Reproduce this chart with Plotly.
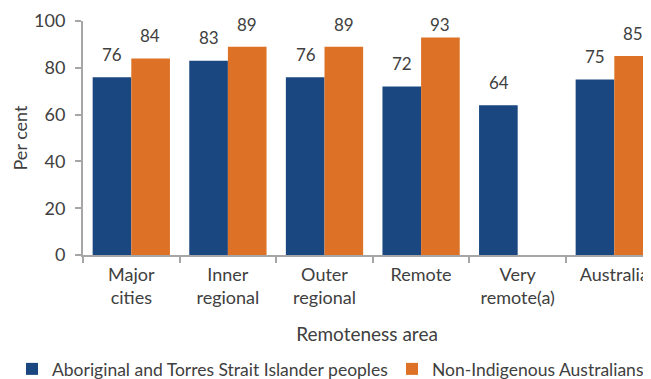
import plotly.graph_objects as go

categories = ["Major<br>cities", "Inner<br>regional", "Outer<br>regional", "Remote", "Very<br>remote(a)", "Australia"]
indigenous = [76, 83, 76, 72, 64, 75]
non_indigenous = [84, 89, 89, 93, None, 85]

blue = "#1A4780"
orange = "#DD7226"
grey = "#404040"
axis_grey = "#A6A6A6"
font_family = "Lato, Open Sans, sans-serif"

# the page body has an 8px margin, so the figure is 8px smaller than the window
W, H = 643, 371

fig = go.Figure()

fig.add_trace(go.Bar(
    x=categories, y=indigenous,
    name="Aboriginal and Torres Strait Islander peoples",
    marker=dict(color=blue, line=dict(width=0)),
    legend="legend",
))
fig.add_trace(go.Bar(
    x=categories, y=non_indigenous,
    name="Non-Indigenous Australians",
    marker=dict(color=orange, line=dict(width=0)),
    legend="legend2",
))

# value labels above the bars, kept inside the top of the plot like excel does
for series, shift in ((indigenous, -19), (non_indigenous, 19)):
    for cat, v in zip(categories, series):
        if v is None:
            continue
        fig.add_annotation(
            x=cat, y=min(v + 9.8, 98.7), text=str(v), showarrow=False,
            xshift=shift, yanchor="middle",
            font=dict(size=17, color=grey),
        )

legend_style = dict(
    orientation="h", xref="container", yref="container",
    y=1 - 361 / H, yanchor="middle", xanchor="left",
    font=dict(size=17.5, color=grey), bgcolor="rgba(0,0,0,0)",
)

fig.update_layout(
    width=W, height=H,
    margin=dict(t=13, l=75, r=0, b=124, autoexpand=False),
    plot_bgcolor="white", paper_bgcolor="white",
    font=dict(family=font_family, size=18, color=grey),
    barmode="group", bargap=0.2, bargroupgap=0,
    showlegend=True,
    legend=dict(x=4 / W, **legend_style),
    legend2=dict(x=384 / W, **legend_style),
)

fig.update_xaxes(
    type="category", range=[-0.5, 5.38], automargin=False,
    showline=True, linecolor=axis_grey, linewidth=2,
    ticks="outside", tickson="boundaries", ticklen=6, tickcolor=axis_grey, tickwidth=2,
    tickfont=dict(size=18, color=grey), ticklabelstandoff=2,
    title=dict(text="Remoteness area", font=dict(size=19, color=grey), standoff=21),
    showgrid=False,
)
fig.update_yaxes(
    range=[0, 100], dtick=20, automargin=False,
    showline=True, linecolor=axis_grey, linewidth=2,
    ticks="outside", ticklen=6, tickcolor=axis_grey, tickwidth=2,
    tickfont=dict(size=18, color=grey), ticklabelstandoff=6,
    title=dict(text="Per cent", font=dict(size=18, color=grey), standoff=2),
    showgrid=False, zeroline=False,
)

fig.write_html("out.html")
